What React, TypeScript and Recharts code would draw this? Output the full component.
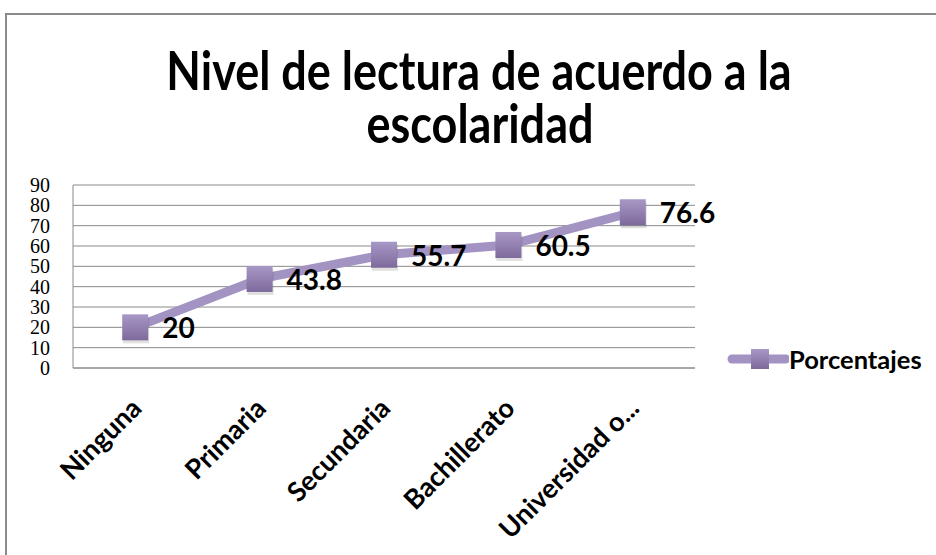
import React from 'react';
import { LineChart, Line, XAxis, YAxis, CartesianGrid, Legend, LabelList } from 'recharts';

const categories = ['Ninguna', 'Primaria', 'Secundaria', 'Bachillerato', 'Universidad o...'];
const porcentajes = [20, 43.8, 55.7, 60.5, 76.6];
const yTicks = [0, 10, 20, 30, 40, 50, 60, 70, 80, 90];
const seriesName = 'Porcentajes';
const titleLines = ['Nivel de lectura de acuerdo a la', 'escolaridad'];

const data = categories.map((c, i) => ({ name: c, [seriesName]: porcentajes[i] }));

const FONT = 'Lato, "Open Sans", sans-serif';
const LINE_COLOR = '#a293c3';

const SquareDot = (props: any) => {
  const { cx, cy, index } = props;
  if (cx == null || cy == null) return null;
  const s = 26;
  const id = `mk-grad-${index}`;
  return (
    <g>
      <defs>
        <linearGradient id={id} x1="0" y1="0" x2="0" y2="1">
          <stop offset="0%" stopColor="#a898c6" />
          <stop offset="100%" stopColor="#7d6a9c" />
        </linearGradient>
      </defs>
      <rect x={cx - s / 2 + 1} y={cy - s / 2 + 3} width={s} height={s} fill="#000" opacity={0.12} />
      <rect x={cx - s / 2} y={cy - s / 2} width={s} height={s} fill={`url(#${id})`} />
    </g>
  );
};

const XTick = (props: any) => {
  const { x, y, payload } = props;
  const ax = x + 8;
  const ay = y + 42;
  return (
    <text
      x={ax}
      y={ay}
      transform={`rotate(-45, ${ax}, ${ay})`}
      textAnchor="end"
      fontFamily={FONT}
      fontWeight={700}
      fontSize={27}
      fill="#000"
    >
      {payload.value}
    </text>
  );
};

const ValueLabel = (props: any) => {
  const { x, y, value } = props;
  return (
    <text x={x + 27} y={y + 11} textAnchor="start" fontFamily={FONT} fontWeight={700} fontSize={28} fill="#000">
      {value}
    </text>
  );
};

const LegendContent = () => (
  <div style={{ display: 'flex', alignItems: 'center', fontFamily: FONT, fontWeight: 700, fontSize: 25.5, color: '#000', lineHeight: '26px' }}>
    <svg width={62} height={24}>
      <line x1={5} y1={12} x2={59} y2={12} stroke={LINE_COLOR} strokeWidth={9} strokeLinecap="round" />
      <defs>
        <linearGradient id="lg-grad" x1="0" y1="0" x2="0" y2="1">
          <stop offset="0%" stopColor="#a898c6" />
          <stop offset="100%" stopColor="#7d6a9c" />
        </linearGradient>
      </defs>
      <rect x={24} y={2} width={18} height={20} fill="url(#lg-grad)" />
    </svg>
    <span>{seriesName}</span>
  </div>
);

export default function App() {
  return (
    <div style={{ position: 'relative', width: 936, height: 555, overflow: 'hidden', background: '#fff' }}>
      <style>{`body{margin:0}`}</style>
      <div
        style={{
          position: 'absolute',
          left: 5,
          top: 13,
          width: 1000,
          height: 700,
          border: '2px solid #8a8a8a',
          boxSizing: 'border-box',
        }}
      />
      <svg width={936} height={160} style={{ position: 'absolute', left: 0, top: 0 }}>
        <text
          transform="translate(479,90) scale(1,1.2)"
          textAnchor="middle"
          fontFamily={FONT}
          fontWeight={700}
          fontSize={45}
          fill="#000"
        >
          {titleLines[0]}
        </text>
        <text
          transform="translate(480,143) scale(1,1.2)"
          textAnchor="middle"
          fontFamily={FONT}
          fontWeight={700}
          fontSize={45}
          fill="#000"
        >
          {titleLines[1]}
        </text>
      </svg>
      <div style={{ position: 'absolute', left: 0, top: 0 }}>
        <LineChart width={936} height={555} data={data} margin={{ top: 185, right: 241, bottom: 0, left: 0 }}>
          <CartesianGrid vertical={false} stroke="#8a8a8a" strokeWidth={1} />
          <XAxis
            dataKey="name"
            scale="band"
            height={187}
            axisLine={{ stroke: '#8a8a8a' }}
            tickLine={false}
            tickSize={0}
            tickMargin={0}
            interval={0}
            tick={<XTick />}
          />
          <YAxis
            width={73}
            domain={[0, 90]}
            ticks={yTicks}
            interval={0}
            axisLine={{ stroke: '#8a8a8a' }}
            tickLine={false}
            tickSize={0}
            tickMargin={23}
            tick={{ fontFamily: '"Liberation Serif", serif', fontSize: 20, fill: '#000' }}
          />
          <Legend
            layout="horizontal"
            verticalAlign="middle"
            align="center"
            content={<LegendContent />}
            wrapperStyle={{ position: 'absolute', left: 727, top: 346, width: 209, height: 26 }}
          />
          <Line
            type="linear"
            dataKey={seriesName}
            name={seriesName}
            stroke={LINE_COLOR}
            strokeWidth={9}
            strokeLinecap="round"
            dot={<SquareDot />}
            activeDot={false}
            isAnimationActive={false}
          >
            <LabelList dataKey={seriesName} content={<ValueLabel />} />
          </Line>
        </LineChart>
      </div>
    </div>
  );
}
